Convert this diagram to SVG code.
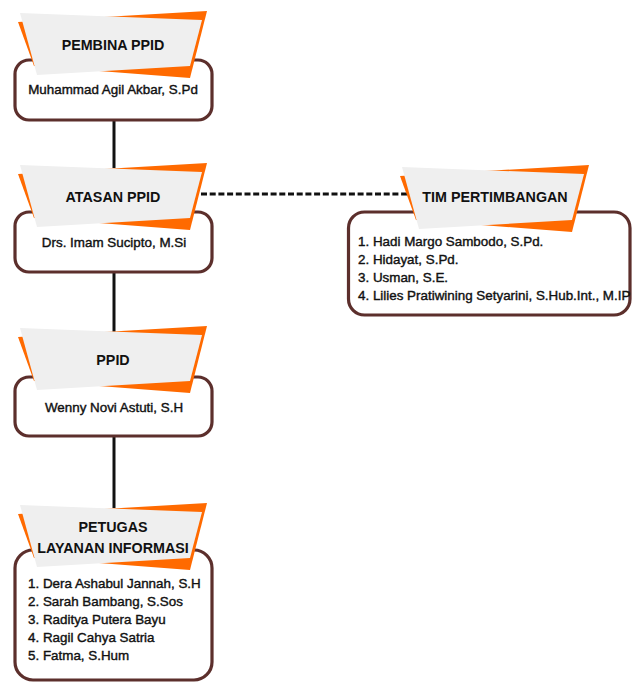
<svg xmlns="http://www.w3.org/2000/svg" xmlns:xlink="http://www.w3.org/1999/xlink" width="632" height="682" viewBox="0 0 632 682">
  <style>
    .box { fill: #ffffff; stroke: #5c2f2c; stroke-width: 3.2; }
    .title { font-family: "Liberation Sans", Arial, sans-serif; font-weight: 700; font-size: 14.3px; fill: #111111; text-anchor: middle; }
    .body { font-family: "Liberation Sans", Arial, sans-serif; font-size: 13.4px; fill: #111111; stroke: #111111; stroke-width: 0.4; }
    .center { text-anchor: middle; }
    .line { stroke: #111111; stroke-width: 3; fill: none; }
    .dash { stroke: #111111; stroke-width: 3; fill: none; stroke-dasharray: 6 2.7; }
  </style>
  <defs>
    <g id="banner">
      <polygon points="18,22 207,11 190,78 34,66" fill="#ff6a00"/>
      <polygon points="20,13 202,20 190,66 37,75" fill="#efefef"/>
    </g>
  </defs>
  <rect width="632" height="682" fill="#ffffff"/>

  <g id="connectors">
    <line class="line" x1="114" y1="120" x2="114" y2="168"/>
    <line class="line" x1="114" y1="272" x2="114" y2="332"/>
    <line class="line" x1="114" y1="436" x2="114" y2="508"/>
    <line class="dash" x1="201" y1="194" x2="412" y2="194"/>
  </g>

  <g id="node-pembina">
    <rect class="box" x="15" y="60" width="197" height="60" rx="14"/>
    <use xlink:href="#banner"/>
    <text class="title" x="113" y="50">PEMBINA PPID</text>
    <text class="body center" x="113" y="94">Muhammad Agil Akbar, S.Pd</text>
  </g>

  <g id="node-atasan">
    <rect class="box" x="15" y="212" width="197" height="60" rx="14"/>
    <use xlink:href="#banner" transform="translate(0,152)"/>
    <text class="title" x="113" y="201.5">ATASAN PPID</text>
    <text class="body center" x="114" y="246.5">Drs. Imam Sucipto, M.Si</text>
  </g>

  <g id="node-tim">
    <rect class="box" x="348.5" y="212" width="281.5" height="103" rx="16"/>
    <use xlink:href="#banner" transform="translate(382,154)"/>
    <text class="title" x="495" y="201.5">TIM PERTIMBANGAN</text>
    <text class="body" x="358" y="246">1. Hadi Margo Sambodo, S.Pd.</text>
    <text class="body" x="358" y="264">2. Hidayat, S.Pd.</text>
    <text class="body" x="358" y="282">3. Usman, S.E.</text>
    <text class="body" x="358" y="300">4. Lilies Pratiwining Setyarini, S.Hub.Int., M.IP</text>
  </g>

  <g id="node-ppid">
    <rect class="box" x="15" y="377" width="197" height="59" rx="14"/>
    <use xlink:href="#banner" transform="translate(0,315)"/>
    <text class="title" x="113" y="365">PPID</text>
    <text class="body center" x="114" y="411.5">Wenny Novi Astuti, S.H</text>
  </g>

  <g id="node-petugas">
    <rect class="box" x="15" y="550" width="197" height="130" rx="18"/>
    <use xlink:href="#banner" transform="translate(0,492)"/>
    <text class="title" x="113" y="531.5">PETUGAS</text>
    <text class="title" x="113" y="552.5">LAYANAN INFORMASI</text>
    <text class="body" x="28" y="587.5">1. Dera Ashabul Jannah, S.H</text>
    <text class="body" x="28" y="605.5">2. Sarah Bambang, S.Sos</text>
    <text class="body" x="28" y="623.5">3. Raditya Putera Bayu</text>
    <text class="body" x="28" y="641.5">4. Ragil Cahya Satria</text>
    <text class="body" x="28" y="659.5">5. Fatma, S.Hum</text>
  </g>
</svg>
